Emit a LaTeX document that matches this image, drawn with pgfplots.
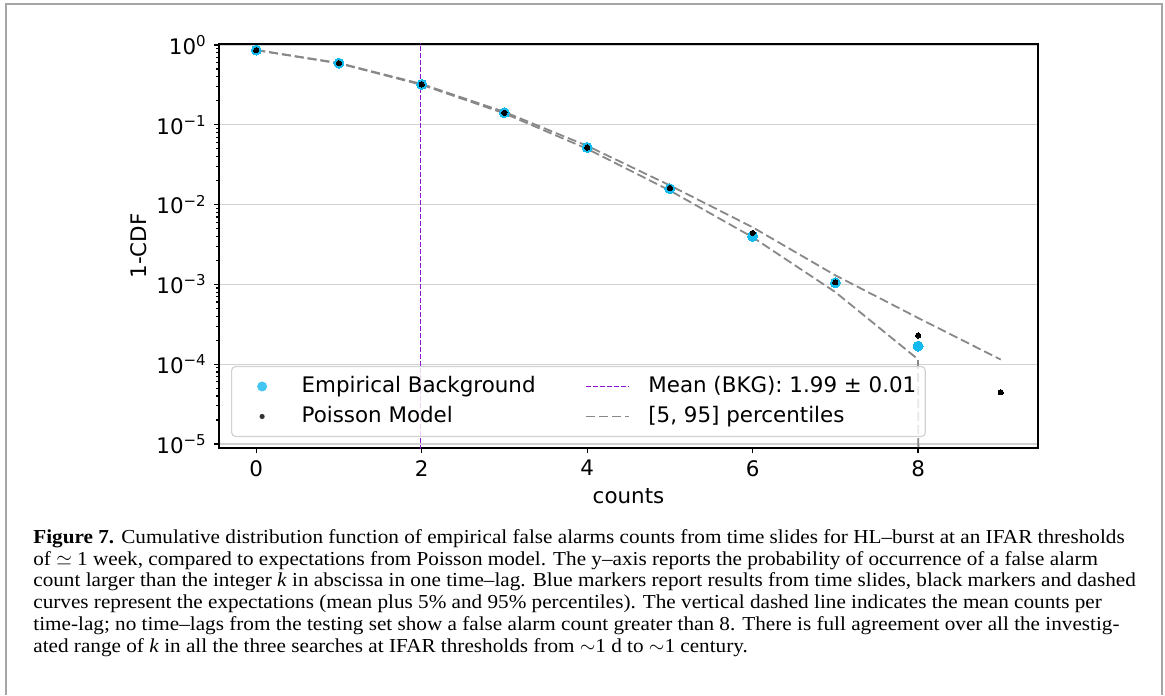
\documentclass[border=0pt]{standalone}
\usepackage{pgfplots}
\pgfplotsset{compat=1.18}
\usepackage{fontspec}
\setmainfont{DejaVu Sans}
\newfontfamily\capfont[FakeStretch=1.07]{Liberation Serif}
\definecolor{skyc}{RGB}{20,185,238}
\definecolor{violetc}{RGB}{140,20,210}
\definecolor{dgray}{RGB}{136,136,136}
\definecolor{gridc}{RGB}{210,210,210}
\definecolor{framec}{RGB}{165,165,165}

\pgfplotstableread{
k emp
0 0.864
1 0.592
2 0.321
3 0.142
4 0.0520
5 0.0158
6 0.0040
7 0.00105
8 0.000168
}\emptab

\pgfplotstableread{
k pois
0 0.8633
1 0.5913
2 0.3206
3 0.1411
4 0.0518
5 0.0162
6 0.00441
7 0.00106
8 0.000229
9 0.0000445
}\poistab

\pgfplotstableread{
k up
0 0.866
1 0.595
2 0.325
3 0.145
4 0.0545
5 0.0174
6 0.0052
7 0.00130
8 0.00038
9 0.000114
}\uptab

\pgfplotstableread{
k lo
0 0.861
1 0.588
2 0.317
3 0.139
4 0.0500
5 0.0150
6 0.0039
7 0.00080
8 0.000115
8.01 0.0000001
}\lotab

\begin{document}
\begin{tikzpicture}
\path[use as bounding box] (0,0) rectangle (582.5pt,347.5pt);
\draw[framec, line width=0.8pt] (3pt,0) -- (3pt,345.5pt) -- (581pt,345.5pt) -- (581pt,0);
\begin{axis}[
  scale only axis,
  width=409.5pt, height=202pt,
  at={(109.5pt,123.5pt)}, anchor=south west,
  ymode=log,
  xmin=-0.45, xmax=9.45,
  ymin=8.9e-6, ymax=1.03,
  xtick={0,2,4,6,8},
  ytick={1e-5,1e-4,1e-3,1e-2,1e-1,1},
  yticklabels={10\textsuperscript{−5},10\textsuperscript{−4},10\textsuperscript{−3},10\textsuperscript{−2},10\textsuperscript{−1},10\textsuperscript{0}},
  /pgf/number format/assume math mode=true,
  ticklabel style={font=\fontsize{10.7}{12}\selectfont},
  label style={font=\fontsize{10.7}{12}\selectfont},
  tick pos=left,
  tick align=outside,
  major tick length=2.6pt,
  minor tick length=1.5pt,
  tick style={black, line width=0.6pt},
  axis line style={black, line width=0.8pt},
  ymajorgrids,
  major grid style={gridc, line width=0.6pt},
  xlabel={counts},
  ylabel={1-CDF},
  xlabel style={at={(axis description cs:0.5,-0.119)}, anchor=center},
  ylabel style={at={(axis description cs:-0.098,0.5)}, anchor=center},
  legend columns=2,
  legend cell align=left,
  legend style={
    at={(axis description cs:0.0147,0.027)}, anchor=south west,
    draw=gridc, line width=0.6pt, rounded corners=2pt,
    fill=white, fill opacity=0.8, text opacity=1,
    inner xsep=4.5pt, inner ysep=5pt,
    font=\fontsize{10.7}{12}\selectfont,
    nodes={inner xsep=0pt, inner ysep=0pt, text height=8pt, text depth=2pt},
    row sep=5pt,
    /tikz/every odd column/.append style={column sep=9pt},
    /tikz/every even column/.append style={column sep=25pt},
  },
]
\addplot[only marks, mark=*, mark size=2.5pt, mark options={fill=skyc, draw=skyc, line width=0pt},
  legend image code/.code={\path[draw=none,fill=none] (0pt,0pt) -- (21.5pt,0pt); \fill[skyc, draw=none] (10.75pt,0pt) circle (2.5pt);}]
  table[x=k, y=emp] {\emptab};
\addlegendentry{Empirical Background}
\addplot[violetc, line width=0.6pt, dash pattern=on 2.2pt off 1.3pt,
  legend image code/.code={\draw[violetc, line width=0.6pt, dash pattern=on 2.2pt off 1.3pt] (0pt,0pt) -- (21.5pt,0pt);}]
  coordinates {(1.99,1e-7) (1.99,10)};
\addlegendentry{Mean (BKG): 1.99 ± 0.01}
\addplot[only marks, mark=*, mark size=1.3pt, mark options={fill=black, draw=black, line width=0pt},
  legend image code/.code={\path[draw=none,fill=none] (0pt,0pt) -- (21.5pt,0pt); \fill[black, draw=none] (10.75pt,0pt) circle (1.3pt);}]
  table[x=k, y=pois] {\poistab};
\addlegendentry{Poisson Model}
\addplot[dgray, line width=0.9pt, dash pattern=on 4.5pt off 2pt,
  legend image code/.code={\draw[dgray, line width=0.9pt, dash pattern=on 4.5pt off 2pt] (0pt,0pt) -- (21.5pt,0pt);}]
  table[x=k, y=up] {\uptab};
\addlegendentry{[5, 95] percentiles}
\addplot[dgray, line width=0.9pt, dash pattern=on 4.5pt off 2pt, forget plot]
  table[x=k, y=lo] {\lotab};
\end{axis}
\begin{scope}[every node/.style={anchor=base west, inner sep=0pt, font=\capfont\fontsize{9.9}{11}\selectfont}]
\node at (16.5pt,75.8pt) {\textbf{Figure 7.} Cumulative distribution function of empirical false alarms counts from time slides for HL–burst at an IFAR thresholds};
\node at (16.5pt,64.9pt) {of $\simeq$ 1 week, compared to expectations from Poisson model. The y–axis reports the probability of occurrence of a false alarm};
\node at (16.5pt,54.0pt) {count larger than the integer \textit{k} in abscissa in one time–lag. Blue markers report results from time slides, black markers and dashed};
\node at (16.5pt,43.1pt) {curves represent the expectations (mean plus 5\% and 95\% percentiles). The vertical dashed line indicates the mean counts per};
\node at (16.5pt,32.2pt) {time-lag; no time–lags from the testing set show a false alarm count greater than 8. There is full agreement over all the investig-};
\node at (16.5pt,21.3pt) {ated range of \textit{k} in all the three searches at IFAR thresholds from $\sim$1 d to $\sim$1 century.};
\end{scope}
\end{tikzpicture}
\end{document}
